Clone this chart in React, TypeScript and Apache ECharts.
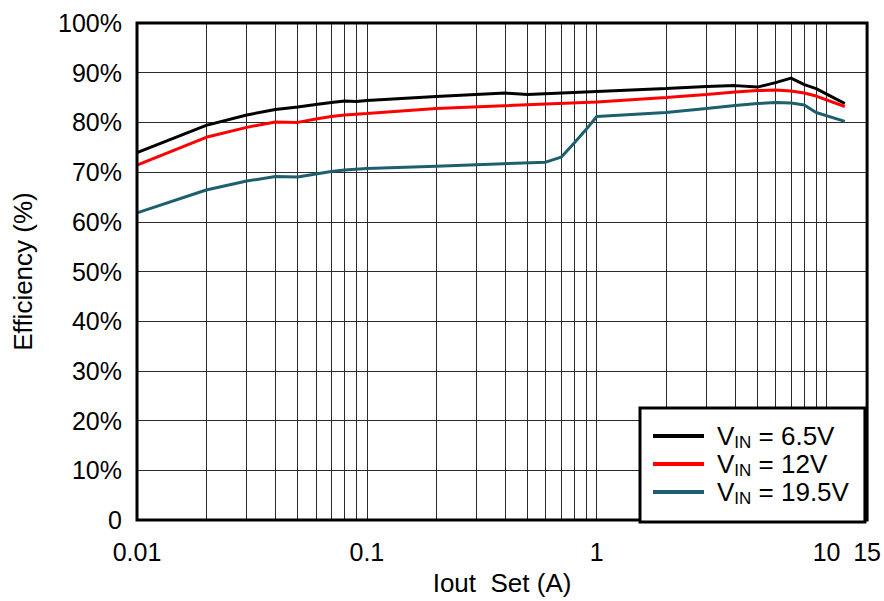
import React, { useEffect, useRef } from "react";
import * as echarts from "echarts";

// Output current (A)
const iout65 = [0.01, 0.02, 0.03, 0.04, 0.05, 0.06, 0.07, 0.08, 0.09, 0.1, 0.2, 0.4, 0.5, 1, 2, 3, 4, 5, 6, 7, 8, 9, 10.5, 12];
const eff65 = [73.9, 79.4, 81.5, 82.6, 83.1, 83.6, 84.0, 84.3, 84.2, 84.4, 85.2, 85.9, 85.6, 86.2, 86.8, 87.2, 87.4, 87.1, 88.0, 88.9, 87.6, 86.8, 85.2, 83.8];

const iout12 = [0.01, 0.02, 0.03, 0.04, 0.05, 0.06, 0.07, 0.08, 0.1, 0.2, 1, 2, 3, 4, 5, 6, 7, 8, 9, 12];
const eff12 = [71.4, 77.0, 79.0, 80.1, 80.0, 80.7, 81.2, 81.5, 81.8, 82.8, 84.1, 85.0, 85.6, 86.1, 86.4, 86.5, 86.3, 85.9, 85.3, 83.2];

const iout195 = [0.01, 0.02, 0.03, 0.04, 0.05, 0.06, 0.07, 0.08, 0.1, 0.2, 0.6, 0.7, 0.8, 0.9, 1, 2, 3, 4, 5, 6, 7, 8, 9, 12];
const eff195 = [61.8, 66.4, 68.2, 69.1, 69.0, 69.6, 70.1, 70.4, 70.7, 71.2, 72.0, 73.0, 75.9, 78.6, 81.2, 82.0, 82.8, 83.4, 83.8, 84.0, 83.9, 83.5, 82.0, 80.2];

const seriesNames = ["6.5V", "12V", "19.5V"];
const seriesColors = ["#000000", "#ff0000", "#1e5f6e"];

const minorGridX = [
  0.02, 0.03, 0.04, 0.05, 0.06, 0.07, 0.08, 0.09,
  0.2, 0.3, 0.4, 0.5, 0.6, 0.7, 0.8, 0.9,
  2, 3, 4, 5, 6, 7, 8, 9,
];

const FONT = "'Liberation Sans', Arial, Helvetica, sans-serif";
const GRID_COLOR = "#2a2a2a";

function pairs(xs: number[], ys: number[]) {
  return xs.map((x, i) => [x, ys[i]]);
}

export default function App() {
  const ref = useRef<HTMLDivElement>(null);
  useEffect(() => {
    if (!ref.current) return;
    const chart = echarts.init(ref.current, undefined, { renderer: "svg" });
    const datasets = [pairs(iout65, eff65), pairs(iout12, eff12), pairs(iout195, eff195)];
    const option: any = {
      animation: false,
      backgroundColor: "#ffffff",
      textStyle: { fontFamily: FONT },
      grid: {
        left: 137,
        top: 23,
        width: 731,
        height: 507,
        show: true,
        borderColor: "#000",
        borderWidth: 3,
        z: 10,
      },
      xAxis: {
        type: "log",
        logBase: 10,
        min: 0.01,
        max: 15,
        name: "Iout  Set (A)",
        nameLocation: "middle",
        nameGap: 50,
        nameTextStyle: { fontSize: 26, color: "#000", fontFamily: FONT },
        axisLine: { show: false },
        axisTick: { show: false },
        axisLabel: {
          fontSize: 25,
          color: "#000",
          fontFamily: FONT,
          margin: 19,
          formatter: (v: number) => String(Number(v.toPrecision(6))),
        },
        splitLine: { show: true, lineStyle: { color: GRID_COLOR, width: 1 } },
      },
      yAxis: {
        type: "value",
        min: 0,
        max: 100,
        interval: 10,
        name: "Efficiency (%)",
        nameLocation: "middle",
        nameGap: 101,
        nameTextStyle: { fontSize: 26, color: "#000", fontFamily: FONT },
        axisLine: { show: false },
        axisTick: { show: false },
        axisLabel: {
          fontSize: 25,
          color: "#000",
          fontFamily: FONT,
          margin: 15,
          formatter: (v: number) => (v === 0 ? "0" : v + "%"),
        },
        splitLine: { show: true, lineStyle: { color: GRID_COLOR, width: 1 } },
      },
      legend: {
        show: true,
        orient: "vertical",
        left: 640,
        top: 408,
        data: seriesNames,
        icon: "rect",
        itemWidth: 51,
        itemHeight: 4,
        itemGap: 0,
        padding: [15, 16, 15, 13],
        backgroundColor: "#fff",
        borderColor: "#000",
        borderWidth: 3,
        z: 20,
        formatter: (name: string) => `{v|V}{s|IN}{v| = ${name}}`,
        textStyle: {
          color: "#000",
          fontFamily: FONT,
          padding: [0, 0, 0, 8],
          rich: {
            v: { fontSize: 26, lineHeight: 30, color: "#000", fontFamily: FONT },
            s: { fontSize: 17, lineHeight: 12, verticalAlign: "bottom", color: "#000", fontFamily: FONT },
          },
        },
      },
      series: [
        {
          type: "line",
          name: "__grid",
          data: [],
          silent: true,
          z: 1,
          markLine: {
            silent: true,
            symbol: ["none", "none"],
            label: { show: false },
            lineStyle: { color: GRID_COLOR, width: 1, type: "solid" },
            data: minorGridX.map((x) => ({ xAxis: x })),
          },
        },
        ...datasets.map((d, i) => ({
          type: "line",
          name: seriesNames[i],
          data: d,
          showSymbol: false,
          symbol: "none",
          z: 5,
          lineStyle: { color: seriesColors[i], width: 3 },
          itemStyle: { color: seriesColors[i] },
        })),
      ],
    };
    chart.setOption(option);
    return () => chart.dispose();
  }, []);
  return (
    <div
      ref={ref}
      style={{ position: "fixed", left: 0, top: 0, width: 884, height: 601 }}
    />
  );
}
